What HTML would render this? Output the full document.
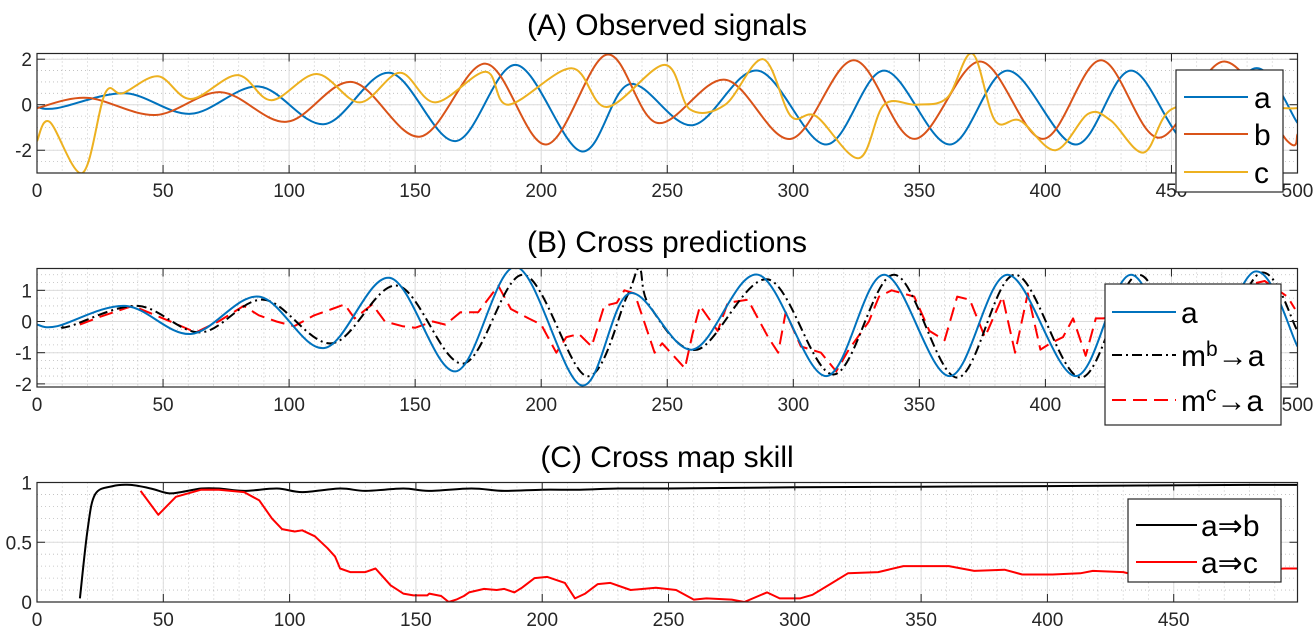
<!DOCTYPE html>
<html><head><meta charset="utf-8">
<style>
html,body{margin:0;padding:0;background:#fff;}
svg{display:block;font-family:"Liberation Sans",Arial,sans-serif;}
</style></head>
<body>
<svg id="chart" width="1315" height="635" viewBox="0 0 1315 635">
<rect width="1315" height="635" fill="#fff"/>
</svg>
<script>
// ---------- data ----------
const aX=[0,8,35,61,88,114,140,166,190,216,235,260,286,313,336,362,385,412,434,458,483,500];
const aY=[-0.1,-0.15,0.5,-0.4,0.8,-0.85,1.4,-1.6,1.75,-2.05,0.9,-0.9,1.5,-1.75,1.5,-1.75,1.5,-1.75,1.5,-1.75,1.6,-0.8];
const bX=[0,20,47,73,99,125,152,178,202,226,246,273,299,324,348,374,399,422,445,471,496,500];
const bY=[-0.15,0.3,-0.45,0.55,-0.75,1.0,-1.4,1.8,-1.75,2.2,-0.8,1.1,-1.5,1.95,-1.5,1.9,-1.5,1.95,-1.45,1.9,-1.6,-1.3];
const cX=[0,5,18,27,34,48,61,79.5,93,111,128,144,158,178,187,212,226,249,259,273,288,299,309,326,336,349,361,371,380,390,404,417,426,439,450,472,494,500];
const cY=[-1.6,-0.75,-3.0,0.5,0.5,1.25,0.25,1.3,0.2,1.35,0.1,1.4,0.1,1.45,0.0,1.6,-0.1,1.75,-0.2,0.0,2.0,-0.5,-0.5,-2.35,0.0,0.0,0.3,2.25,-0.7,-0.7,-2.0,-0.4,-0.7,-2.1,-0.2,0.0,-0.15,-0.15];
const mbX=[10,13,40,65,90,117,143,169,193,218,234,239,243,262,290,316,340,365,388,414,437,461,485,500];
const mbY=[-0.15,-0.15,0.5,-0.35,0.7,-0.7,1.15,-1.35,1.5,-1.75,0.8,1.7,0.5,-0.9,1.35,-1.7,1.5,-1.8,1.5,-1.8,1.5,-1.7,1.55,-0.3];
const mcX=[17,25,38,50,63,72,82,88,95,102,110,117,122,126,133,138,145,150,157,162,168,175,183,188,195,200,206,210,215,220,225,230,233,237,240,245,248,257,260,263,270,274,282,290,294,297,303,311,317,322,330,334,339,348,354,360,365,370,376,383,388,393,398,402,407,411,416,420,423,487,496,499];
const mcY=[-0.1,0.15,0.5,0.1,-0.35,0,0.5,0.2,0.0,-0.15,0.2,0.4,0.55,0.1,0.55,0.0,-0.15,-0.2,0.0,-0.1,0.3,0.3,1.15,0.4,0.1,-0.1,-1.0,-0.5,-0.4,-0.8,0.5,0.6,1.0,0.9,0.2,-1.0,-0.7,-1.5,-0.4,0.5,-0.3,0.6,0.7,-0.5,-1.0,0.3,-0.8,-1.0,-1.6,-0.9,0.0,0.8,1.0,0.8,-0.3,-0.6,0.8,0.7,-0.5,0.8,-1.0,0.9,-0.9,-0.7,-0.5,0.1,-1.1,0.1,0.1,1.3,0.8,0.4];
const sbX=[17,20,23,30,37,45,52,57,65,72,82,95,105,120,130,145,155,172,185,200,215,230,250,300,350,400,480,499];
const sbY=[0.03,0.6,0.9,0.97,0.98,0.95,0.91,0.92,0.95,0.95,0.93,0.95,0.92,0.95,0.93,0.95,0.93,0.95,0.93,0.94,0.94,0.95,0.95,0.96,0.965,0.97,0.98,0.98];
const scX=[41,48,55,65,72,82,88,93,97,102,105,110,115,118,120,124,130,134,140,145,149,154.5,155.3,160,163,166,169,171,177,182,185,189,192,197,202,209,213,217,222,227,235,245,253,260,265,275,280,289,294,302,307,314,321,333,343,361,371,383,390,402,413,418,430,434,494,499];
const scY=[0.93,0.73,0.88,0.94,0.94,0.92,0.85,0.7,0.61,0.59,0.6,0.55,0.45,0.38,0.28,0.25,0.25,0.28,0.14,0.07,0.055,0.055,0.07,0.05,0.0,0.02,0.05,0.08,0.11,0.1,0.11,0.08,0.12,0.2,0.21,0.16,0.03,0.07,0.15,0.16,0.1,0.12,0.1,0.02,0.03,0.02,0.0,0.08,0.03,0.03,0.06,0.15,0.24,0.25,0.3,0.3,0.26,0.27,0.23,0.23,0.24,0.26,0.25,0.23,0.28,0.28];
const xTicksAB=[0,50,100,150,200,250,300,350,400,450,500];
const xTicksC=[0,50,100,150,200,250,300,350,400,450];
const yTicksA=[-2,0,2];
const yTicksB=[-2,-1,0,1];
const yTicksC=[0,0.5,1];
const yTickLabC=["0","0.5","1"];

// ---------- helpers ----------
const NS="http://www.w3.org/2000/svg";
const svg=document.getElementById('chart');
function mk(tag,attrs,parent){const e=document.createElementNS(NS,tag);for(const k in attrs)e.setAttribute(k,attrs[k]);(parent||svg).appendChild(e);return e;}
function smoothPath(xs,ys,sx,sy){
  const p=xs.map((x,i)=>[sx(x),sy(ys[i])]);
  let d="M"+p[0][0].toFixed(1)+","+p[0][1].toFixed(1);
  for(let i=0;i<p.length-1;i++){
    const p0=p[i-1]||p[i],p1=p[i],p2=p[i+1],p3=p[i+2]||p2;
    const c1=[p1[0]+(p2[0]-p0[0])/6,p1[1]+(p2[1]-p0[1])/6];
    const c2=[p2[0]-(p3[0]-p1[0])/6,p2[1]-(p3[1]-p1[1])/6];
    d+=" C"+c1[0].toFixed(1)+","+c1[1].toFixed(1)+" "+c2[0].toFixed(1)+","+c2[1].toFixed(1)+" "+p2[0].toFixed(1)+","+p2[1].toFixed(1);
  }
  return d;
}
function linePath(xs,ys,sx,sy){return xs.map((x,i)=>(i?"L":"M")+sx(x).toFixed(1)+","+sy(ys[i]).toFixed(1)).join(" ");}

function panel(cfg){
  const g=mk('g',{});
  
  
  const L=37,R=1297.5,T=cfg.top,B=cfg.bottom;
  const sx=v=>L+(v-cfg.x0)/(cfg.x1-cfg.x0)*(R-L);
  const sy=v=>B-(v-cfg.y0)/(cfg.y1-cfg.y0)*(B-T);
  for(let v=cfg.x0;v<=cfg.x1;v+=10){mk('line',{x1:sx(v),x2:sx(v),y1:T,y2:B,stroke:'#bbb','stroke-width':0.8,'stroke-dasharray':'1,3'},g);}
  for(let v=Math.ceil(cfg.y0/cfg.minY)*cfg.minY;v<=cfg.y1;v+=cfg.minY){mk('line',{x1:L,x2:R,y1:sy(v),y2:sy(v),stroke:'#bbb','stroke-width':0.8,'stroke-dasharray':'1,3'},g);}
  cfg.xt.forEach(v=>mk('line',{x1:sx(v),x2:sx(v),y1:T,y2:B,stroke:'#dcdcdc','stroke-width':1},g));
  cfg.yt.forEach(v=>mk('line',{x1:L,x2:R,y1:sy(v),y2:sy(v),stroke:'#dcdcdc','stroke-width':1},g));
  const clip=mk('clipPath',{id:'clip'+cfg.name},g);mk('rect',{x:L,y:T,width:R-L,height:B-T},clip);
  const sg=mk('g',{'clip-path':'url(#clip'+cfg.name+')'},g);
  cfg.series.forEach(s=>{
    const d=s.smooth?smoothPath(s.x,s.y,sx,sy):linePath(s.x,s.y,sx,sy);
    const p=mk('path',{d:d,fill:'none',stroke:s.color,'stroke-width':2,'stroke-linejoin':'round'},sg);
    if(s.dash)p.setAttribute('stroke-dasharray',s.dash);
    
    
  });
  cfg.xt.forEach(v=>{mk('line',{x1:sx(v),x2:sx(v),y1:B,y2:B-8,stroke:'#222','stroke-width':1},g);mk('line',{x1:sx(v),x2:sx(v),y1:T,y2:T+8,stroke:'#222','stroke-width':1},g);
    const t=mk('text',{x:sx(v),y:B+24,'text-anchor':'middle','font-size':19,fill:'#262626'},g);t.textContent=String(v);
    
    });
  cfg.yt.forEach((v,i)=>{mk('line',{x1:L,x2:L+8,y1:sy(v),y2:sy(v),stroke:'#222','stroke-width':1},g);mk('line',{x1:R,x2:R-8,y1:sy(v),y2:sy(v),stroke:'#222','stroke-width':1},g);
    const t=mk('text',{x:L-5,y:sy(v)+7,'text-anchor':'end','font-size':19,fill:'#262626'},g);t.textContent=cfg.ytl?cfg.ytl[i]:String(v);
    
    });
  mk('rect',{x:L,y:T,width:R-L,height:B-T,fill:'none',stroke:'#262626','stroke-width':1.2},g);
  const tt=mk('text',{x:667,y:cfg.titleY,'text-anchor':'middle','font-size':30,fill:'#000'},g);tt.textContent=cfg.title;
  
  
  const lg=cfg.legend;
  const lgG=mk('g',{},g);
  
  
  mk('rect',{x:lg.x,y:lg.y,width:lg.w,height:lg.h,fill:'#fff',stroke:'#262626','stroke-width':1.2},lgG);
  lg.items.forEach((it,i)=>{
    const yy=lg.rows[i];
    const ln=mk('line',{x1:lg.lx1,x2:lg.lx2,y1:yy,y2:yy,stroke:it.color,'stroke-width':2},lgG);
    if(it.dash)ln.setAttribute('stroke-dasharray',it.dash);
    const t=mk('text',{x:lg.tx,y:yy+11,'font-size':30,fill:'#000'},lgG);
    t.innerHTML=it.label;
    
    
  });
}

const BLUE='#0072BD',ORANGE='#D95319',YELLOW='#EDB120';
panel({name:'panel-a',top:53.5,bottom:173,x0:0,x1:500,y0:-3,y1:2.25,minY:0.5,xt:xTicksAB,yt:yTicksA,title:'(A) Observed signals',titleY:35,
  series:[{name:'series-a',x:aX,y:aY,color:BLUE,smooth:true},{name:'series-b',x:bX,y:bY,color:ORANGE,smooth:true},{name:'series-c',x:cX,y:cY,color:YELLOW,smooth:true}],
  legend:{x:1176,y:70,w:107,h:122,lx1:1184,lx2:1248,tx:1254,rows:[97,134,172],items:[{label:'a',color:BLUE},{label:'b',color:ORANGE},{label:'c',color:YELLOW}]}});
panel({name:'panel-b',top:268.5,bottom:387,x0:0,x1:500,y0:-2.1,y1:1.7,minY:0.25,xt:xTicksAB,yt:yTicksB,title:'(B) Cross predictions',titleY:252,
  series:[{name:'series-mca',x:mcX,y:mcY,color:'#FF0000',dash:'14,7'},{name:'series-mba',x:mbX,y:mbY,color:'#000',smooth:true,dash:'10,4,2,4'},{name:'series-a-b',x:aX,y:aY,color:BLUE,smooth:true}],
  legend:{x:1105,y:284,w:176,h:141,lx1:1112,lx2:1176,tx:1181,rows:[312,355,400],items:[{label:'a',color:BLUE},{label:'m<tspan dy="-10" font-size="21">b</tspan><tspan dy="10">→a</tspan>',color:'#000',dash:'10,4,2,4'},{label:'m<tspan dy="-10" font-size="21">c</tspan><tspan dy="10">→a</tspan>',color:'#FF0000',dash:'14,7'}]}});
panel({name:'panel-c',top:482.5,bottom:602,x0:0,x1:499,y0:0,y1:1,minY:0.1,xt:xTicksC,yt:yTicksC,ytl:yTickLabC,title:'(C) Cross map skill',titleY:467,
  series:[{name:'skill-ab',x:sbX,y:sbY,color:'#000',smooth:true},{name:'skill-ac',x:scX,y:scY,color:'#FF0000'}],
  legend:{x:1128,y:499,w:153,h:83,lx1:1136,lx2:1197,tx:1201,rows:[525,562],items:[{label:'a⇒b',color:'#000'},{label:'a⇒c',color:'#FF0000'}]}});
</script>
</body></html>
